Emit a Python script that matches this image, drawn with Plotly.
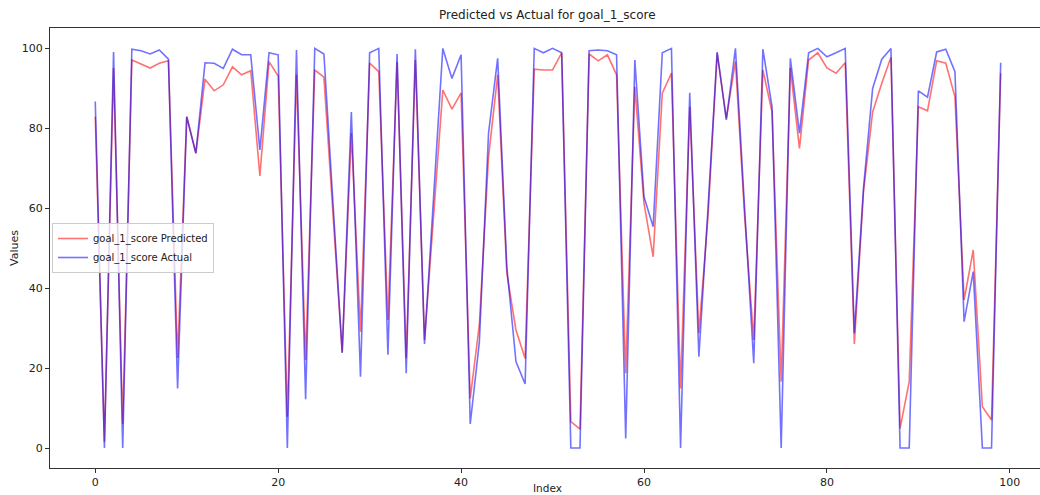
import plotly.graph_objects as go

# Per-sample scores for goal_1_score (index 0..99)
index = list(range(100))

actual = [
    86.6, 0, 99, 0, 99.7, 99.3, 98.5, 99.5, 97.2, 14.9,
    82.8, 73.7, 96.3, 96.2, 94.9, 99.7, 98.3, 98.3, 74.5, 98.8,
    98.3, 0, 99.5, 12.2, 99.9, 98.5, 61, 23.8, 84, 17.8,
    98.8, 99.9, 23.3, 98.5, 18.7, 99.7, 26, 63, 99.9, 92.4,
    98.3, 6, 26.6, 78.7, 97.4, 45.3, 21.6, 16, 99.9, 98.8,
    99.9, 98.8, 0, 0, 99.3, 99.5, 99.3, 98.3, 2.4, 97,
    62.8, 55.3, 98.8, 99.9, 0, 88.8, 22.8, 60, 99, 82,
    99.9, 60, 21.2, 99.7, 85.3, 0, 97.4, 78.7, 98.8, 99.9,
    97.8, 98.8, 99.9, 28.7, 65, 89.9, 97.2, 99.9, 0, 0,
    89.3, 87.7, 99, 99.7, 94.1, 31.6, 44.1, 0, 0, 96.3,
]

predicted = [
    82.8, 1.5, 95, 6, 97, 96, 95, 96.2, 96.8, 22.5,
    82.8, 73.7, 92.2, 89.3, 90.8, 95.3, 93.3, 94.3, 68, 96.6,
    93, 7.8, 93.3, 22, 94.5, 92.7, 58, 23.8, 78.7, 29.1,
    96.2, 94.1, 32, 96.5, 22.5, 97, 27, 58, 89.5, 84.7,
    88.8, 12.4, 31, 72.8, 93.3, 43.7, 29.5, 22.4, 94.7, 94.5,
    94.5, 98.8, 6.6, 4.7, 98.5, 96.8, 98.3, 93.3, 18.7, 90.3,
    61.2, 47.8, 88.7, 93.7, 14.9, 85.3, 28.7, 58, 98.7, 82.4,
    96.6, 58, 27, 94.5, 84, 16.6, 95, 74.9, 97, 98.8,
    95, 93.7, 96.3, 26, 64, 84, 91.2, 97.7, 4.9, 16.6,
    85.3, 84.3, 96.8, 96.2, 87.8, 37, 49.5, 10.3, 7, 93.7,
]

x_ticks = [0, 20, 40, 60, 80, 100]
y_ticks = [0, 20, 40, 60, 80, 100]

FONT = "DejaVu Sans"

fig = go.Figure()
fig.add_trace(go.Scatter(
    x=index, y=predicted, mode="lines", name="goal_1_score Predicted",
    line=dict(color="red", width=1.6), opacity=0.55,
))
fig.add_trace(go.Scatter(
    x=index, y=actual, mode="lines", name="goal_1_score Actual",
    line=dict(color="blue", width=1.6), opacity=0.55,
))

fig.update_layout(
    width=1040, height=495,
    margin=dict(l=50, r=0, t=28, b=27),
    paper_bgcolor="white", plot_bgcolor="white",
    font=dict(family=FONT, size=11, color="#222"),
    showlegend=True,
    legend=dict(
        x=0.002, y=0.5, xanchor="left", yanchor="middle",
        bgcolor="rgba(255,255,255,0.8)", bordercolor="#cccccc", borderwidth=1,
        font=dict(family=FONT, size=10, color="#222"),
        tracegroupgap=0, itemwidth=30,
    ),
    xaxis=dict(
        range=[-4.95, 103.3], tickvals=x_ticks, ticks="outside", ticklen=4,
        tickcolor="#333", showline=True, linecolor="#333", linewidth=1,
        mirror=True, showgrid=False, zeroline=False,
    ),
    yaxis=dict(
        range=[-5, 105], tickvals=y_ticks, ticks="outside", ticklen=4,
        tickcolor="#333", showline=True, linecolor="#333", linewidth=1,
        mirror=False, showgrid=False, zeroline=False,
    ),
    annotations=[
        dict(text="Predicted vs Actual for goal_1_score", x=49.5, xref="x",
             y=1, yref="paper", yanchor="bottom", yshift=4, showarrow=False,
             font=dict(family=FONT, size=12, color="#222")),
        dict(text="Index", x=49.5, xref="x", y=0, yref="paper",
             yanchor="top", yshift=-12, showarrow=False,
             font=dict(family=FONT, size=10.5, color="#222")),
        dict(text="Values", x=0, xref="paper", y=50, yref="y",
             xanchor="center", xshift=-36, textangle=-90, showarrow=False,
             font=dict(family=FONT, size=11, color="#222")),
    ],
)

fig.write_html("out.html")
